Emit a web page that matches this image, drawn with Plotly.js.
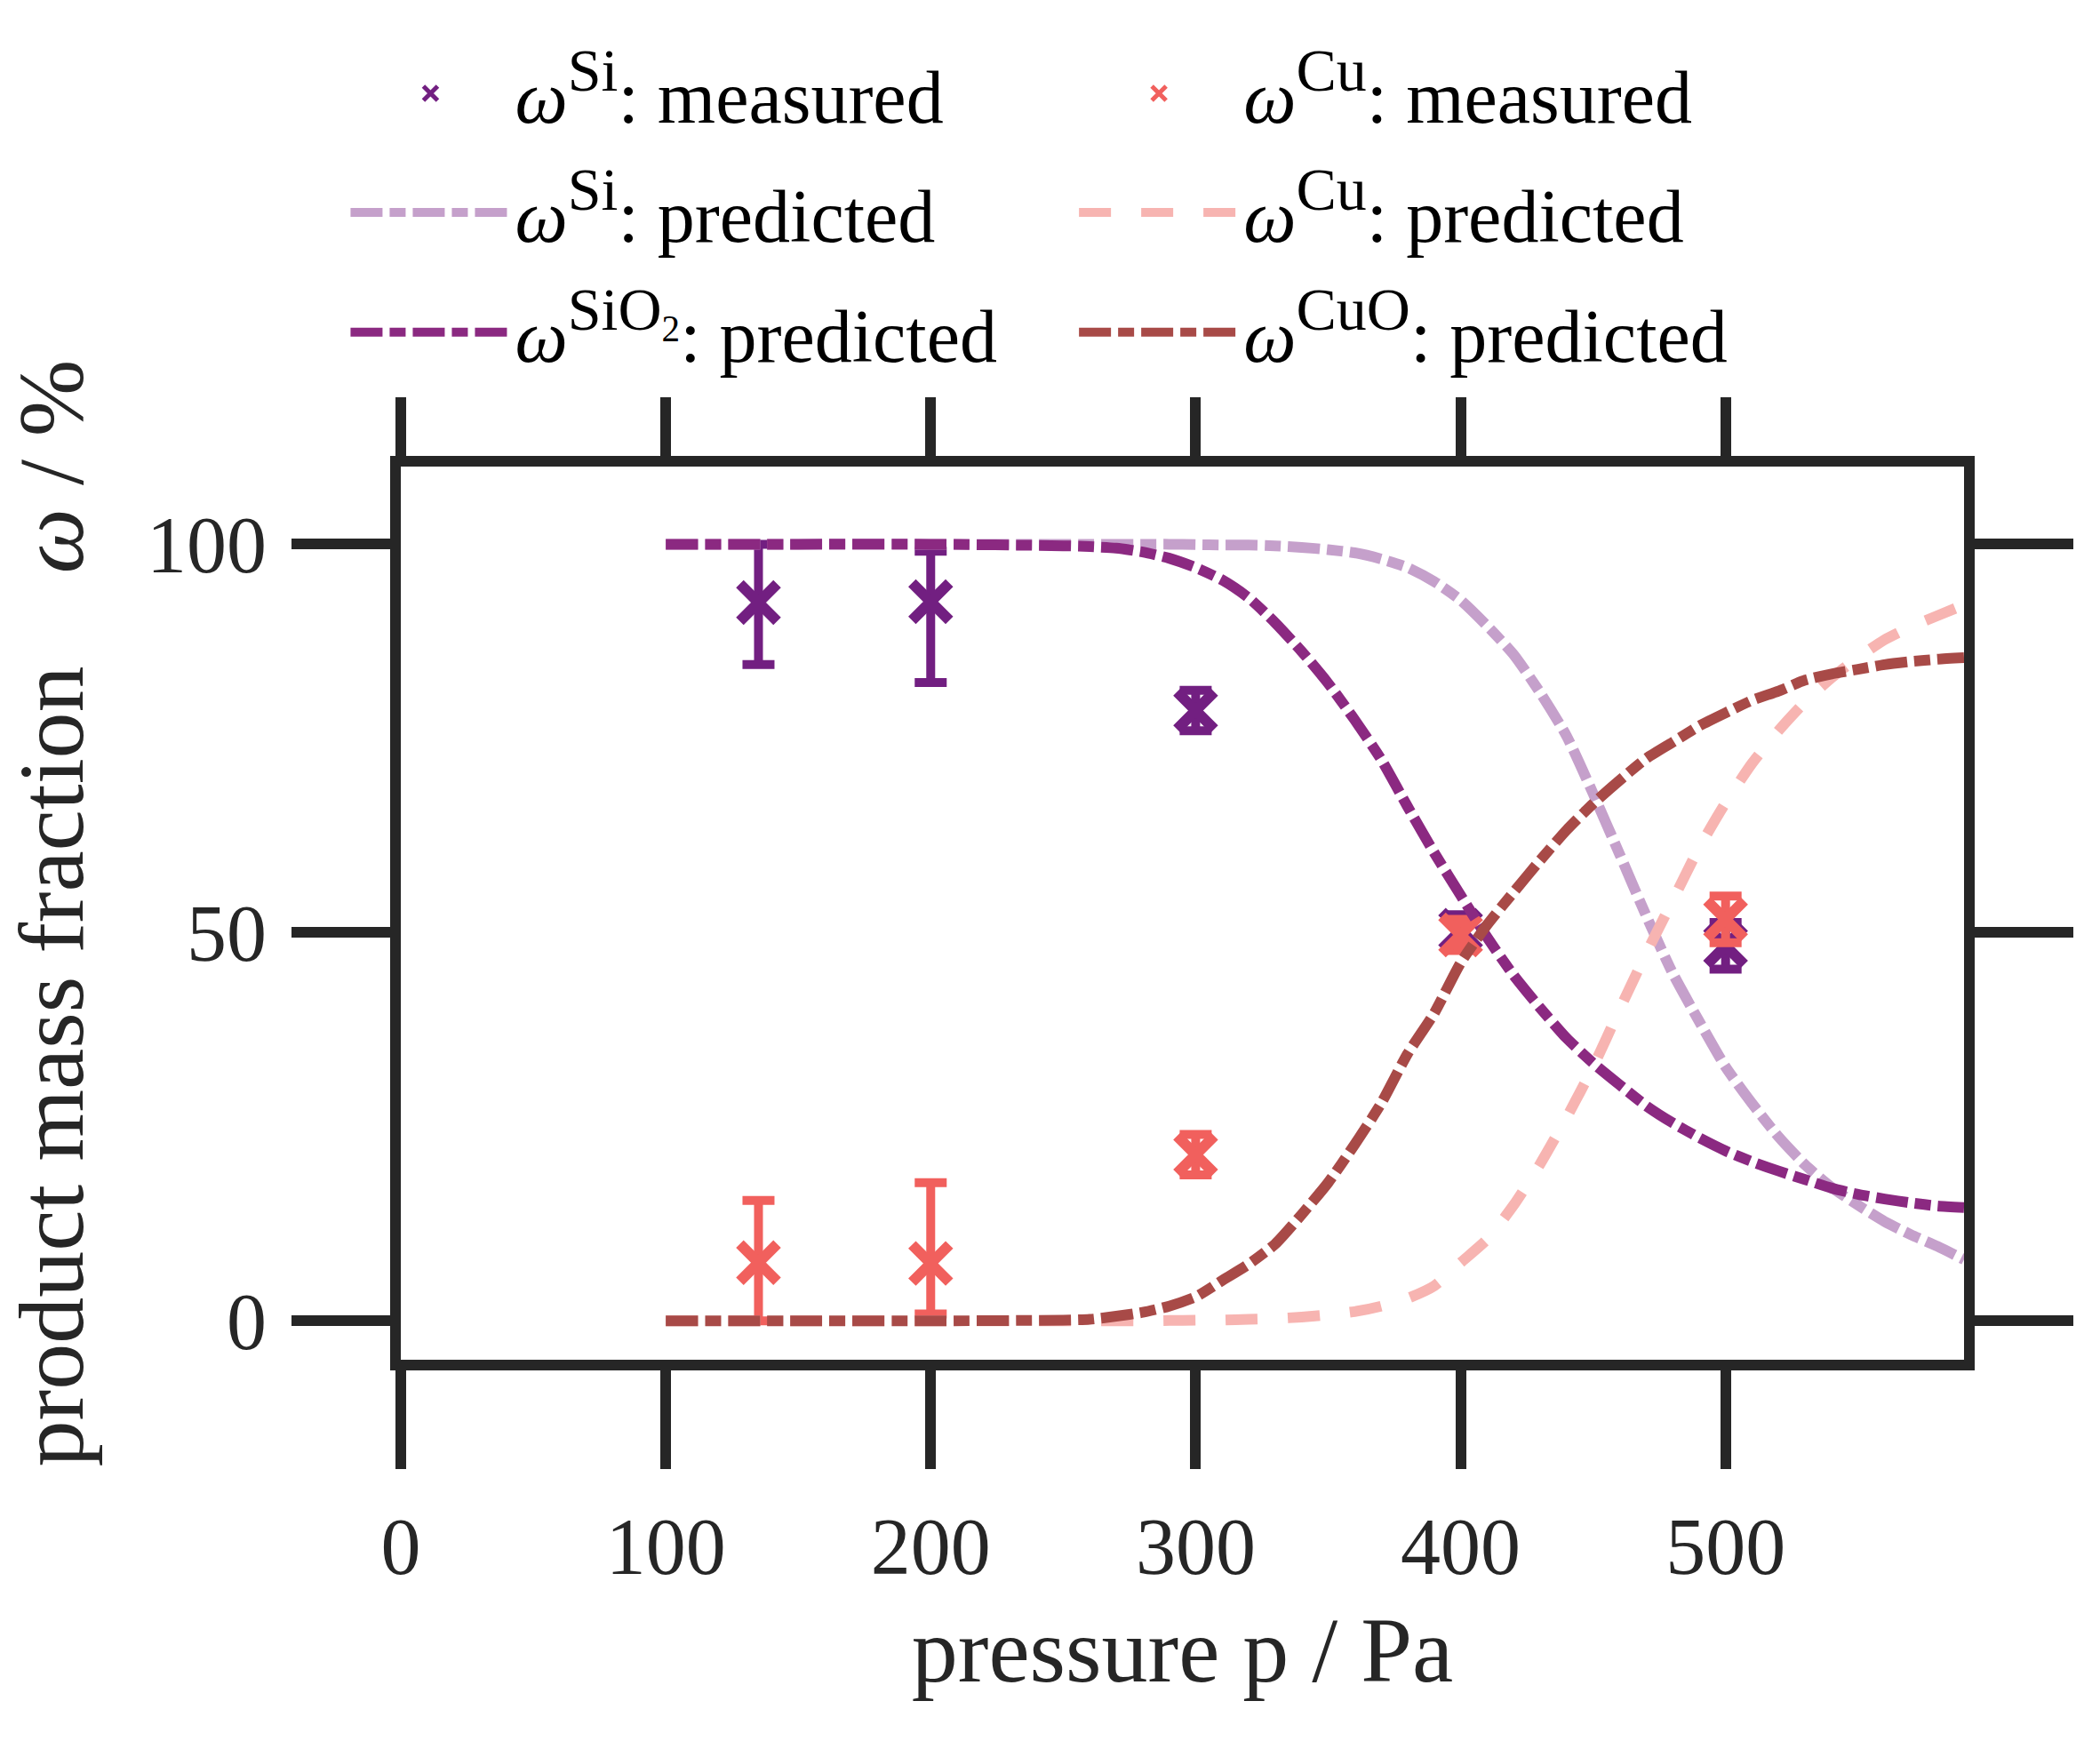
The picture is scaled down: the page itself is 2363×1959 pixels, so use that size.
<!DOCTYPE html>
<html><head><meta charset="utf-8">
<script src="https://cdn.plot.ly/plotly-3.0.1.min.js"></script>
<style>html,body{margin:0;padding:0;background:#fff}#chart{width:2363px;height:1959px}</style>
</head><body><div id="chart"></div>
<script>
// ---- data ----
const pMeasured = [135, 200, 300, 400, 500];
const siMeasured = [92.5, 92.6, 78.6, 50.3, 48.3];
const siErrPlus  = [7.5, 6.5, 2.6, 2.0, 3.0];
const siErrMinus = [8.0, 10.4, 2.6, 2.0, 3.0];
const cuMeasured = [7.5, 7.4, 21.4, 49.7, 51.7];
const cuErrPlus  = [8.0, 10.4, 2.6, 2.0, 3.0];
const cuErrMinus = [7.5, 6.5, 2.6, 2.0, 3.0];

const pPredicted = [100,150,200,250,260,270,280,290,300,310,320,330,340,350,360,370,380,390,400,410,420,430,440,450,460,470,480,490,500,510,520,530,540,550,560,570,580,590];
const siPredicted = [100,100,100,100,100,100,100,100,99.95,99.9,99.9,99.8,99.6,99.3,98.9,98.1,97.0,95.2,92.8,89.5,85.8,80.9,75.3,67.9,60.1,52.2,44.8,38.6,32.7,28.0,23.7,20.1,17.2,14.9,12.8,11.1,9.6,7.9];
const cuPredicted = [0,0,0,0,0,0,0,0.05,0.1,0.1,0.2,0.3,0.5,0.8,1.2,1.9,2.9,4.5,7.5,10.5,14.9,20.2,26.2,32.7,40.1,47.3,54.1,60.9,66.7,71.8,76.0,79.7,82.8,85.4,87.7,89.4,90.8,92.2];
const sio2Predicted = [100,100,100,99.8,99.7,99.5,99.0,98.2,97.0,95.4,93.1,89.9,86.2,82.1,77.4,72.3,66.2,60.3,54.8,49.4,44.5,40.3,36.4,33.2,30.4,27.7,25.5,23.6,21.9,20.5,19.3,18.2,17.1,16.3,15.7,15.2,14.8,14.6];
const cuoPredicted = [0,0,0,0.1,0.2,0.6,1.1,1.9,3.1,5.2,7.3,9.9,13.7,17.8,22.7,28.0,34.4,39.6,46.1,51.0,55.2,59.3,63.2,66.6,69.6,72.4,74.5,76.6,78.3,79.9,81.1,82.5,83.3,83.9,84.5,84.9,85.2,85.4];

const xTicks = [0, 100, 200, 300, 400, 500];
const yTicks = [0, 50, 100];

function sup(t) { return '<sup><span style="font-size:68px">' + t + '</span></sup>'; }
const labels = {
  siMeas: '<i>ω</i>' + sup('Si') + ': measured',
  cuMeas: '<i>ω</i>' + sup('Cu') + ': measured',
  siPred: '<i>ω</i>' + sup('Si') + ': predicted',
  cuPred: '<i>ω</i>' + sup('Cu') + ': predicted',
  sio2Pred: '<i>ω</i><sup><span style="font-size:68px">SiO</span><sub>2</sub></sup>: predicted',
  cuoPred: '<i>ω</i>' + sup('CuO') + ': predicted'
};
const xTitle = 'pressure p / Pa\u00a0\u00a0\u00a0';
const yTitle = 'product mass fraction\u00a0\u00a0\u00a0\u00a0<i>ω</i> / %\u00a0\u00a0';

// ---- styling ----
const AX = '#262626';
const FONT = 'Liberation Serif, Times New Roman, serif';
const C = {
  siMeas: '#721f81', cuMeas: '#f1605d',
  siPred: '#c5a0cb', cuPred: '#f7b4b1',
  sio2Pred: '#8b2981', cuoPred: '#a84a47'
};
const DASHDOT = '36px,8px,18px,8px';
const DASH = '36px,34px';
const LW = 12;

function measured(y, plus, minus, color, name, leg) {
  return {
    type: 'scatter', mode: 'markers', x: pMeasured, y: y, name: name, legend: leg,
    marker: {symbol: 'x-thin', size: 42, color: color, line: {color: color, width: 12}},
    error_y: {type: 'data', symmetric: false, array: plus, arrayminus: minus,
              color: color, thickness: 10, width: 18},
    cliponaxis: false
  };
}
function predicted(y, color, dash, name, leg) {
  return {
    type: 'scatter', mode: 'lines', x: pPredicted, y: y, name: name, legend: leg,
    line: {color: color, width: LW, dash: dash, shape: 'spline', smoothing: 0.6}
  };
}

const traces = [
  measured(siMeasured, siErrPlus, siErrMinus, C.siMeas, labels.siMeas, 'legend'),
  measured(cuMeasured, cuErrPlus, cuErrMinus, C.cuMeas, labels.cuMeas, 'legend2'),
  predicted(siPredicted, C.siPred, DASHDOT, labels.siPred, 'legend3'),
  predicted(cuPredicted, C.cuPred, DASH, labels.cuPred, 'legend4'),
  predicted(sio2Predicted, C.sio2Pred, DASHDOT, labels.sio2Pred, 'legend5'),
  predicted(cuoPredicted, C.cuoPred, DASHDOT, labels.cuoPred, 'legend6'),
  // carrier for the top tick axis (draws nothing)
  {type: 'scatter', mode: 'none', x: pMeasured, y: siMeasured, xaxis: 'x2', yaxis: 'y',
   showlegend: false, hoverinfo: 'skip'}
];

function legendAt(x, y) {
  return {x: x, y: y, xanchor: 'left', yanchor: 'middle', bgcolor: 'rgba(0,0,0,0)',
          borderwidth: 0, itemwidth: 180, font: {family: FONT, size: 84, color: '#000000'}};
}
const col1 = -0.035, col2 = 0.431;
const row1 = 1.4176, row2 = 1.2843, row3 = 1.1500;

const layout = {
  width: 2363, height: 1959,
  margin: {l: 451, r: 153, t: 525, b: 429, pad: 0},
  paper_bgcolor: '#ffffff', plot_bgcolor: '#ffffff',
  font: {family: FONT, color: AX},
  showlegend: true,
  legend: legendAt(col1, row1),
  legend2: legendAt(col2, row1),
  legend3: legendAt(col1, row2),
  legend4: legendAt(col2, row2),
  legend5: legendAt(col1, row3),
  legend6: legendAt(col2, row3),
  xaxis: {
    range: [0, 590], tickvals: xTicks, ticktext: xTicks.map(String),
    showgrid: false, zeroline: false, showline: true, linewidth: LW, linecolor: AX, mirror: true,
    ticks: 'outside', ticklen: 111, tickwidth: LW, tickcolor: AX,
    tickfont: {family: FONT, size: 90, color: AX}, ticklabelstandoff: 10,
    title: {text: xTitle, font: {family: FONT, size: 104, color: AX}, standoff: 35}
  },
  xaxis2: {
    range: [0, 590], overlaying: 'x', side: 'top', anchor: 'y', tickvals: xTicks,
    showticklabels: false, showgrid: false, zeroline: false, showline: false,
    ticks: 'outside', ticklen: 77, tickwidth: LW, tickcolor: AX
  },
  yaxis: {
    range: [-5, 110], tickvals: yTicks, ticktext: yTicks.map(String),
    showgrid: false, zeroline: false, showline: true, linewidth: LW, linecolor: AX, mirror: 'ticks',
    ticks: 'outside', ticklen: 111, tickwidth: LW, tickcolor: AX,
    tickfont: {family: FONT, size: 90, color: AX}, ticklabelstandoff: 10,
    title: {text: yTitle, font: {family: FONT, size: 104, color: AX}, standoff: 45}
  }
};

Plotly.newPlot('chart', traces, layout, {displayModeBar: false, staticPlot: true});
</script>
</body></html>
